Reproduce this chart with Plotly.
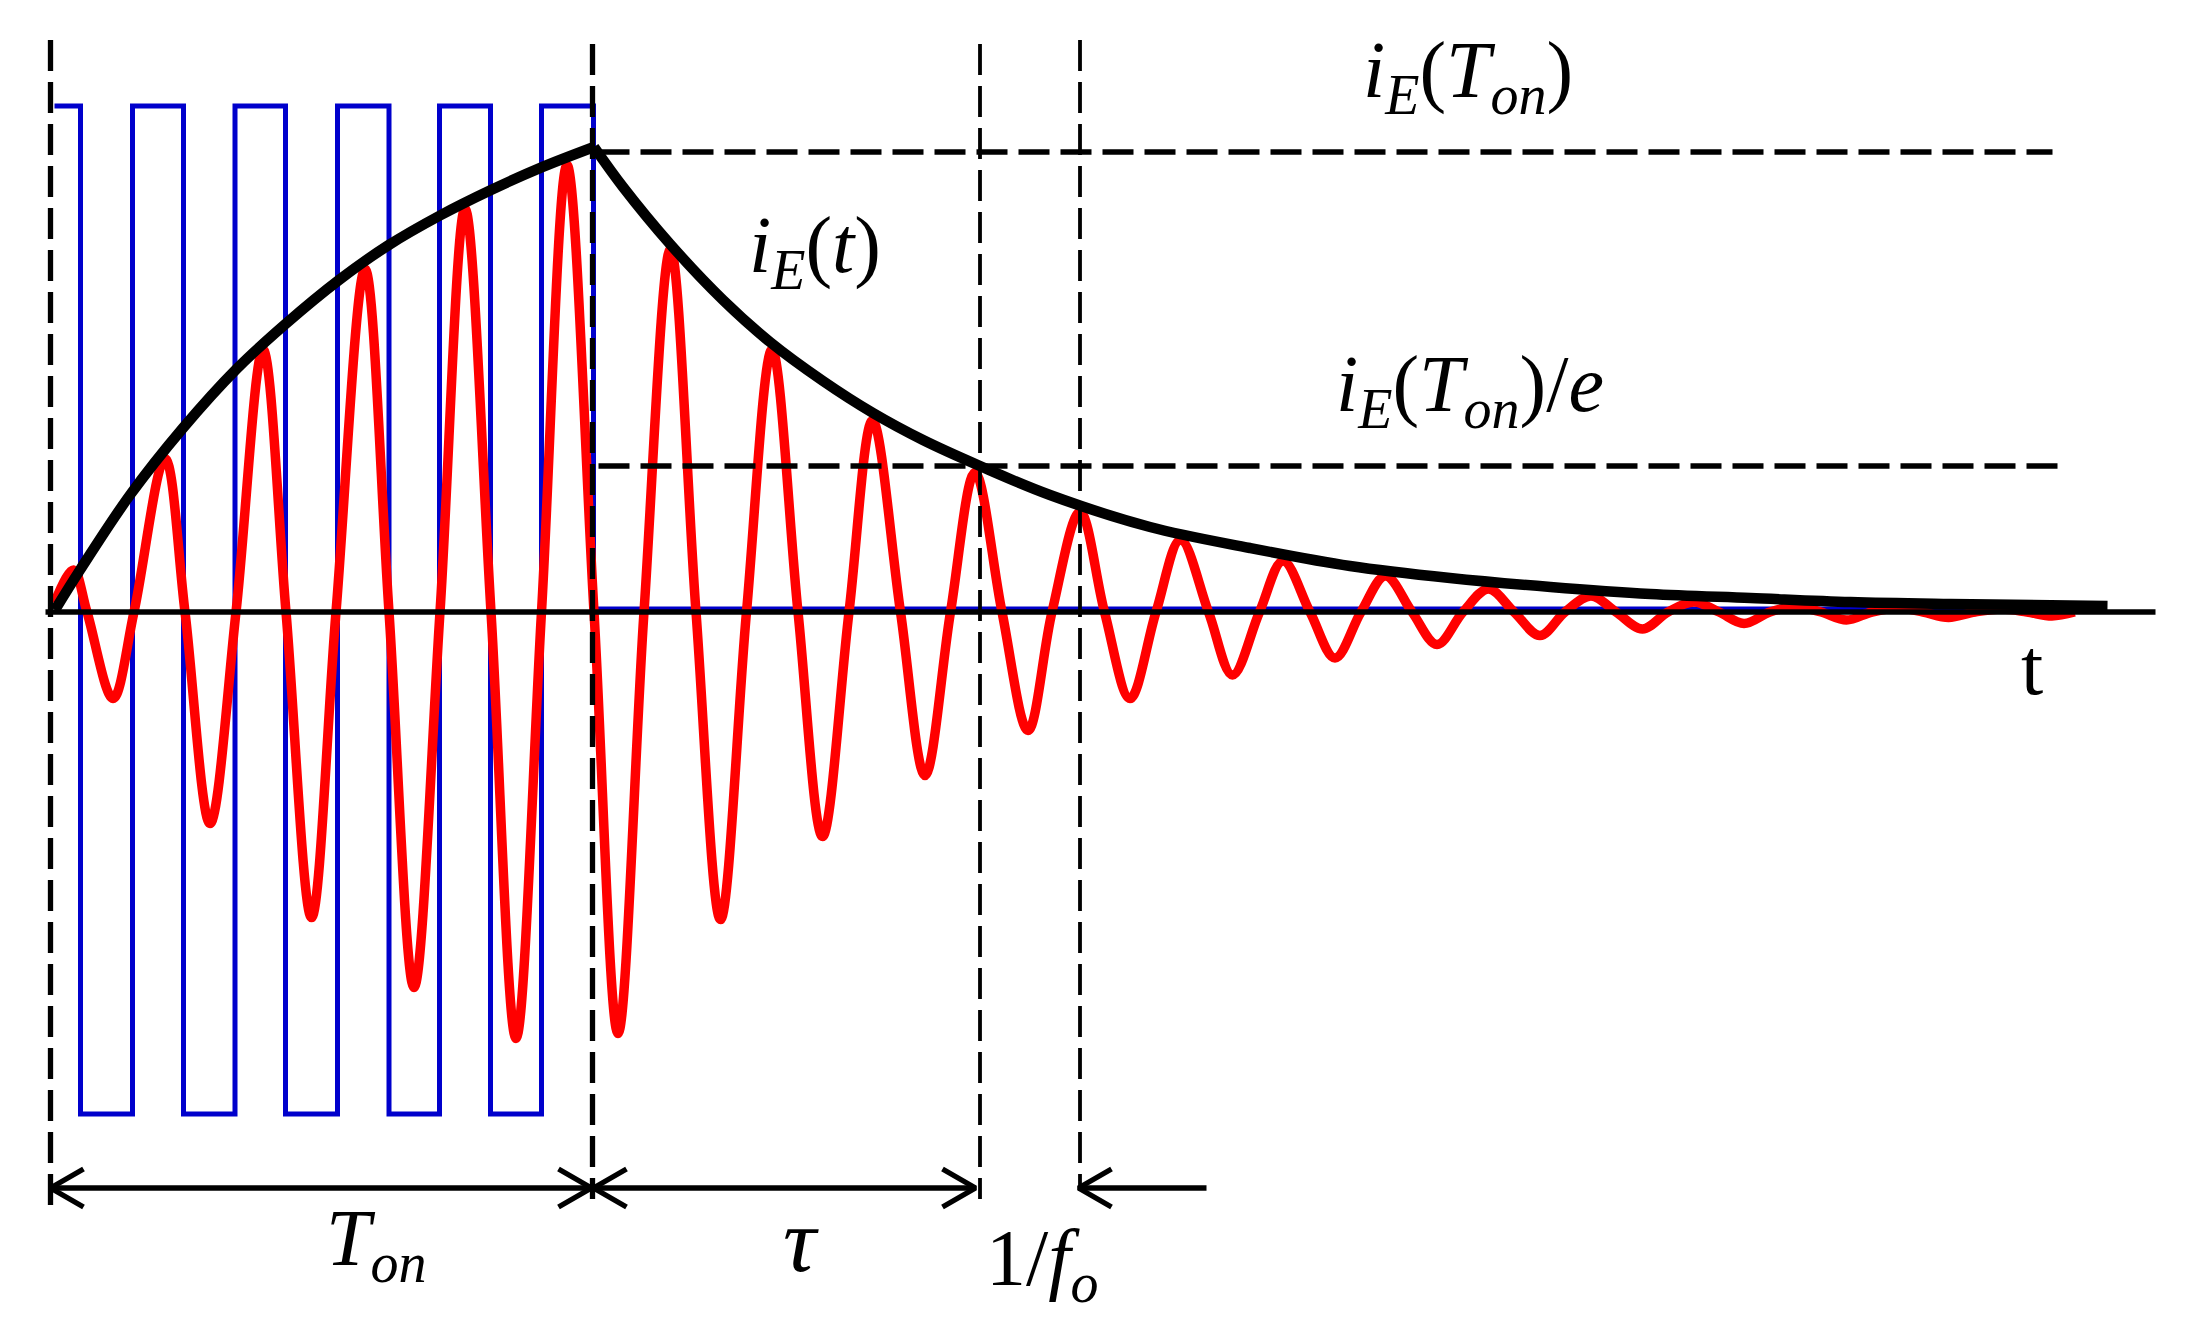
"""
Damped oscillation of the emitter current, with envelope and drive pulses
"""
import plotly.graph_objects as go

# Drive voltage: level holds until the next edge
drive_t = [4, 30, 82, 133, 184.5, 235, 287, 338.5, 389, 440, 491, 543, 2008.5]
drive_level = [506, -502, 506, -502, 506, -502, 506, -502, 506, -502, 506, 3, 3]

# Emitter current: peaks, zero crossings and troughs
current_t = [4, 23, 36.5, 62.5, 83.5, 114.5, 134.5, 159.5, 185.5, 212.5, 235.5, 261, 285.5,
             314.5, 338.5, 363.5, 389.5, 414.5, 440.5, 465.5, 491, 516.5, 543.5, 567.5, 593.5,
             620, 645.5, 670, 696, 721.5, 747.5, 772, 798.5, 822, 850, 874.5, 900, 924.5, 951.5,
             977.5, 1001.5, 1029.5, 1054, 1079.5, 1105.5, 1130, 1158, 1182, 1209, 1232.5,
             1259.5, 1284.5, 1310.5, 1335, 1361.5, 1386.5, 1412.5, 1438, 1463.5, 1489.5, 1514.5,
             1540.5, 1565.5, 1592, 1617.5, 1643.5, 1668.5, 1693.5, 1719.5, 1746, 1770.5, 1796,
             1821.5, 1848.5, 1872.5, 1898, 1924.5, 1951.5, 1976.5, 2001.5, 2024]
current_i = [9, 42, 0, -86.5, 0, 153.5, 0, -211.5, 0, 262.5, 0, -305.5, 0,
             343, 0, -375.5, 0, 403.5, 0, -426.5, 0, 447, 0, -421.5, 0,
             363, 0, -307.5, 0, 262.5, 0, -224.5, 0, 191.5, 0, -163.5, 0, 139.5, 0,
             -118.5, 0, 100, 0, -86.5, 0, 72, 0, -63, 0, 51,
             0, -46, 0, 36, 0, -32.5, 0, 23, 0, -23.5, 0,
             16, 0, -17, 0, 10, 0, -11.5, 0, 5, 0, -8,
             0, 4, 0, -5.5, 0, 3, 0, -4, 0]

# Envelope while the drive is on, then while it decays
rise_t = [4.5, 29.5, 79.5, 132.5, 186, 235, 288.5, 337.5, 389.5, 440.5, 491, 543.5]
rise_i = [2, 42, 117, 184, 243, 288, 332, 366.5, 396.5, 422, 444.6, 465]
decay_t = [543.5, 572.5, 619.5, 672.5, 719.5, 772.5, 822.5, 872.5, 929.5, 999.5, 1099.5,
           1199.5, 1299.5, 1399.5, 1500, 1600, 1700, 1800, 1900, 2057]
decay_i = [465, 425, 368, 312, 270, 231, 199, 172, 146, 117, 85, 64, 46, 34, 25, 18, 14, 10, 8, 6]

# Reference levels and instants
guide_t = [0, 542, 929.5, 1029.5]
guide_i = [460, 146]

labels = {
    "peak": "<i>i</i><sub><i>E</i></sub>(<i>T</i><sub><i>on</i></sub>)",
    "peak_e": "<i>i</i><sub><i>E</i></sub>(<i>T</i><sub><i>on</i></sub>)/<i>e</i>",
    "envelope": "<i>i</i><sub><i>E</i></sub>(<i>t</i>)",
    "time": "t",
    "on_time": "<i>T</i><sub><i>on</i></sub>",
    "tau": "<i>τ</i>",
    "period": "1/<i>f</i><sub><i>o</i></sub>",
}

BLUE = "#0000cc"
RED = "#ff0000"
BLACK = "#000000"
DASH = "31px,11px"


def add_line(fig, x, y, color=BLACK, width=5.3, **line_opts):
    fig.add_trace(go.Scatter(x=x, y=y, mode="lines", hoverinfo="skip",
                             line=dict(color=color, width=width, **line_opts)))


def add_arrowhead(fig, tip, direction):
    """Open arrowhead at i = -576, direction is +1 for pointing right"""
    back = tip - direction * 33
    add_line(fig, [back, tip, back], [-557, -576, -595])


fig = go.Figure()

add_line(fig, drive_t, drive_level, color=BLUE, width=5, shape="hv")
add_line(fig, current_t, current_i, color=RED, width=9.5, shape="spline", smoothing=1)
add_line(fig, rise_t, rise_i, width=10.5, shape="spline", smoothing=1)
add_line(fig, decay_t, decay_i, width=10.5, shape="spline", smoothing=1)

# Time axis
add_line(fig, [-5, 2105], [0, 0])

# Dashed guides
add_line(fig, [guide_t[0]] * 2, [572, -593], dash=DASH)
add_line(fig, [guide_t[1]] * 2, [568, -587], dash=DASH)
add_line(fig, [guide_t[2]] * 2, [568, -587], width=3.8, dash=DASH)
add_line(fig, [guide_t[3]] * 2, [572, -579], width=3.8, dash=DASH)
add_line(fig, [548, 2002], [guide_i[0]] * 2, dash=DASH)
add_line(fig, [548, 2008], [guide_i[1]] * 2, dash=DASH)

# Span arrows below the plot
add_line(fig, [0, 541], [-576, -576])
add_arrowhead(fig, 0, -1)
add_arrowhead(fig, 541, 1)
add_line(fig, [543, 925], [-576, -576])
add_arrowhead(fig, 543, -1)
add_arrowhead(fig, 925, 1)
add_line(fig, [1028, 1156], [-576, -576])
add_arrowhead(fig, 1028, -1)

TEXT_FONT = dict(family="Liberation Serif", size=80, color=BLACK)


def add_label(text, x, y, xanchor="left", size=None):
    font = dict(TEXT_FONT)
    if size:
        font["size"] = size
    fig.add_annotation(x=x, y=y, text=text, showarrow=False, xanchor=xanchor,
                       yanchor="middle", font=font)


add_label(labels["peak"], 1310, 536)
add_label(labels["peak_e"], 1283, 222)
add_label(labels["envelope"], 696, 361)
add_label(labels["time"], 1981, -55, xanchor="center")
add_label(labels["on_time"], 326, -632, xanchor="center")
add_label(labels["tau"], 750, -628, xanchor="center", size=92)
add_label(labels["period"], 933, -652)

# Page keeps its 8px body margin, so the figure is inset and the ranges follow
fig.update_layout(
    width=2181,
    height=1321,
    margin=dict(l=0, r=0, t=0, b=0),
    paper_bgcolor="white",
    plot_bgcolor="white",
    showlegend=False,
    xaxis=dict(range=[-42.5, 2138.5], visible=False),
    yaxis=dict(range=[-717, 604], visible=False),
)

fig.write_html("out.html")
